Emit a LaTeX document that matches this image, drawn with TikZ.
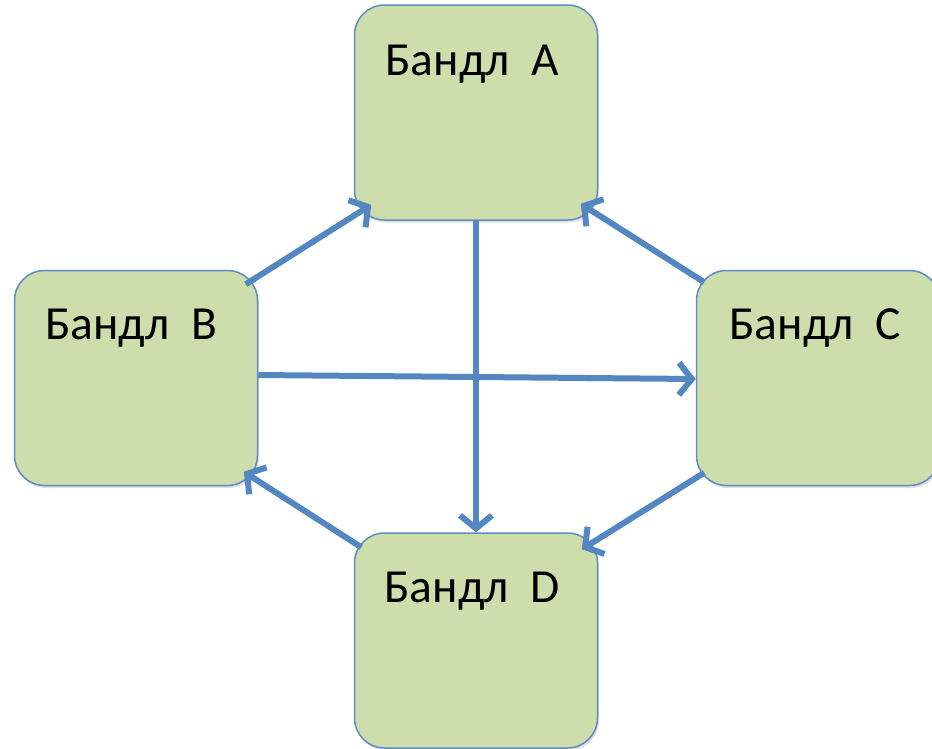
\documentclass[tikz,border=0pt]{standalone}
\usepackage{fontspec}
\setmainfont{Carlito}
\usetikzlibrary{arrows.meta,calc,shadows}
\definecolor{boxfill}{RGB}{205,221,172}
\definecolor{boxline}{RGB}{94,140,196}
\definecolor{arrowcol}{RGB}{84,134,194}
\tikzset{
  bundle/.style={draw=boxline, line width=1.5pt, fill=boxfill, rounded corners=30pt,
    minimum width=243pt, minimum height=215pt, inner sep=0pt,
    drop shadow={shadow xshift=1.5pt, shadow yshift=-2.5pt, opacity=0.2, fill=black!60}},
  bundletext/.style={anchor=base, font=\fontsize{47.5}{52}\selectfont, inner sep=0pt},
  conn/.style={draw=arrowcol, line width=6pt,
    -{Straight Barb[length=13pt,width=32pt,line width=6pt]}}
}
\begin{document}
\begin{tikzpicture}[x=1pt,y=-1pt]
\useasboundingbox (0,0) rectangle (932,748);
\node[bundle] (A) at (476,112.5) {};
\node[bundle] (B) at (136,378) {};
\node[bundle] (C) at (818,378) {};
\node[bundle] (D) at (476,640.5) {};
\node[bundletext] (tA) at (472,75) {Бандл~~A};
\node[bundletext] (tB) at (131,339) {Бандл~~B};
\node[bundletext] (tC) at (815,339) {Бандл~~C};
\node[bundletext] (tD) at (472,602) {Бандл~~D};
\draw[conn] ($(B.north east)+(-12.5,14.5)$) -- ($(A.south west)+(17.5,-16)$);
\draw[conn] ($(C.north west)+(8.5,12.5)$) -- ($(A.south east)+(-17.5,-17)$);
\draw[conn] (A.south) -- (D.north);
\draw[conn] ($(B.east)+(0,-3)$) -- ($(C.west)+(0,1)$);
\draw[conn] ($(C.south west)+(8.5,-13.5)$) -- ($(D.north east)+(-16.5,17)$);
\draw[conn] ($(D.north west)+(7.5,15)$) -- ($(B.south east)+(-14.5,-14.5)$);
\end{tikzpicture}
\end{document}
